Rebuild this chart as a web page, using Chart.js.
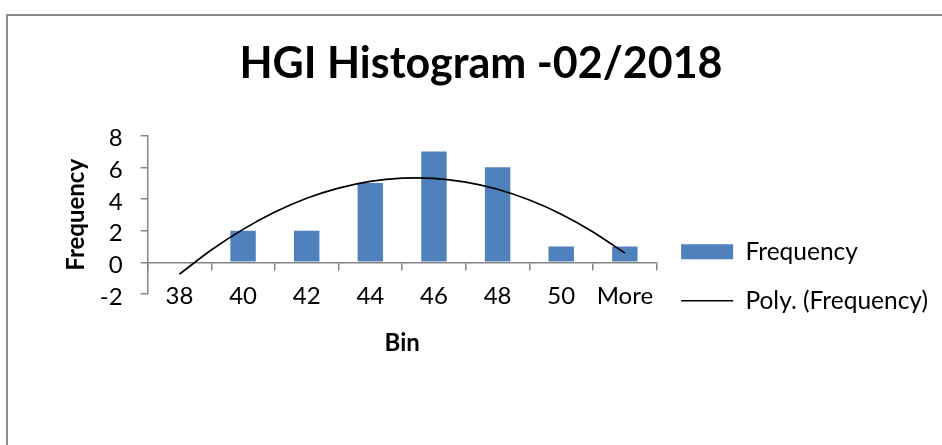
<!DOCTYPE html>
<html>
<head>
<meta charset="utf-8">
<script src="https://cdn.jsdelivr.net/npm/chart.js@4/dist/chart.umd.min.js"></script>
<style>
  html, body { margin: 0; padding: 0; background: #fff; overflow: hidden; }
  #wrap { position: relative; width: 942px; height: 445px; overflow: hidden; }
  #frame { position: absolute; left: 6px; top: 14px; width: 1000px; height: 500px;
           border-left: 2px solid #8c8c8c; border-top: 2px solid #8c8c8c; pointer-events: none; }
  canvas { position: absolute; left: 0; top: 0; }
</style>
</head>
<body>
<div id="wrap">
  <canvas id="c" width="942" height="445"></canvas>
  <div id="frame"></div>
</div>
<script>
const chartTitle = 'HGI Histogram -02/2018';
const xTitle = 'Bin';
const yTitle = 'Frequency';
const bins = ['38', '40', '42', '44', '46', '48', '50', 'More'];
const frequency = [0, 2, 2, 5, 7, 6, 1, 1];
const yTicks = [-2, 0, 2, 4, 6, 8];
// polynomial trendline, at half-bin steps (1 = first bin)
const trendPos = [1, 1.5, 2, 2.5, 3, 3.5, 4, 4.5, 5, 5.5, 6, 6.5, 7, 7.5, 8];
const trendVals = [-0.75, 0.78, 2.08, 3.17, 4.04, 4.68, 5.11, 5.31, 5.30, 5.06, 4.61, 3.93, 3.04, 1.92, 0.58];

const FONT = 'Lato, "Open Sans", sans-serif';
const axisGray = '#868686';

new Chart(document.getElementById('c'), {
  type: 'bar',
  data: {
    labels: bins,
    datasets: [
      {
        type: 'bar',
        label: 'Frequency',
        data: frequency,
        backgroundColor: '#4f81bd',
        borderWidth: 0,
        pointStyle: 'rect',
        grouped: false,
        barPercentage: 0.4,
        categoryPercentage: 1.0,
        xAxisID: 'x0',
        yAxisID: 'y',
        order: 2
      },
      {
        type: 'line',
        label: 'Poly. (Frequency)',
        data: trendPos.map((p, i) => ({ x: p, y: trendVals[i] })),
        borderColor: '#000',
        borderWidth: 1.7,
        pointRadius: 0,
        pointStyle: 'line',
        pointBorderColor: '#000',
        pointBorderWidth: 1.6,
        pointBackgroundColor: '#000',
        tension: 0.3,
        fill: false,
        xAxisID: 'xt',
        yAxisID: 'y',
        order: 1
      }
    ]
  },
  options: {
    responsive: false,
    animation: false,
    layout: { padding: { left: 24, right: 4, top: 10, bottom: 87.6 } },
    plugins: {
      title: {
        display: true,
        text: chartTitle,
        color: '#000',
        font: { family: FONT, size: 43, weight: 'bold' },
        padding: { top: 28, bottom: 46 }
      },
      legend: {
        display: true,
        position: 'right',
        align: 'center',
        maxWidth: 600,
        labels: {
          usePointStyle: true,
          pointStyleWidth: 52,
          boxHeight: 15,
          color: '#000',
          padding: 24.5,
          font: { family: FONT, size: 24.5 },
          sort: (a, b) => a.datasetIndex - b.datasetIndex
        },
        title: { display: true, text: ' ', padding: { top: 184, bottom: 0 }, font: { size: 1 } }
      },
      tooltip: { enabled: false }
    },
    scales: {
      x: {
        type: 'category',
        labels: bins,
        position: 'bottom',
        offset: true,
        grid: { display: false, drawTicks: false },
        border: { display: false },
        ticks: { display: false },
        title: { display: true, text: xTitle, color: '#000', font: { family: FONT, size: 24, weight: 'bold' }, padding: { top: 34.6, bottom: 0 } }
      },
      x0: {
        type: 'category',
        labels: bins,
        position: { y: 0 },
        offset: true,
        grid: { display: true, offset: true, drawOnChartArea: false, drawTicks: true, tickLength: 7, color: axisGray, lineWidth: 1.5 },
        border: { display: true, color: axisGray, width: 1.5 },
        ticks: { display: true, color: '#000', font: { family: FONT, size: 24 }, padding: 12.5, maxRotation: 0, autoSkip: false }
      },
      xt: {
        type: 'linear',
        display: false,
        offset: false,
        grid: { offset: false },
        min: 0.5,
        max: 8.5
      },
      y: {
        type: 'linear',
        min: -2,
        max: 8,
        afterBuildTicks: (s) => { s.ticks = yTicks.map(v => ({ value: v })); },
        grid: { display: true, drawOnChartArea: false, drawTicks: true, tickLength: 7, color: axisGray, lineWidth: 1.5 },
        border: { display: true, color: axisGray, width: 1.5 },
        ticks: { color: '#000', font: { family: FONT, size: 24 }, padding: 18, labelOffset: 3, autoSkip: false },
        title: { display: true, text: yTitle, color: '#000', font: { family: FONT, size: 24, weight: 'bold' }, padding: { top: 38, bottom: -9 } }
      }
    }
  }
});
</script>
</body>
</html>
